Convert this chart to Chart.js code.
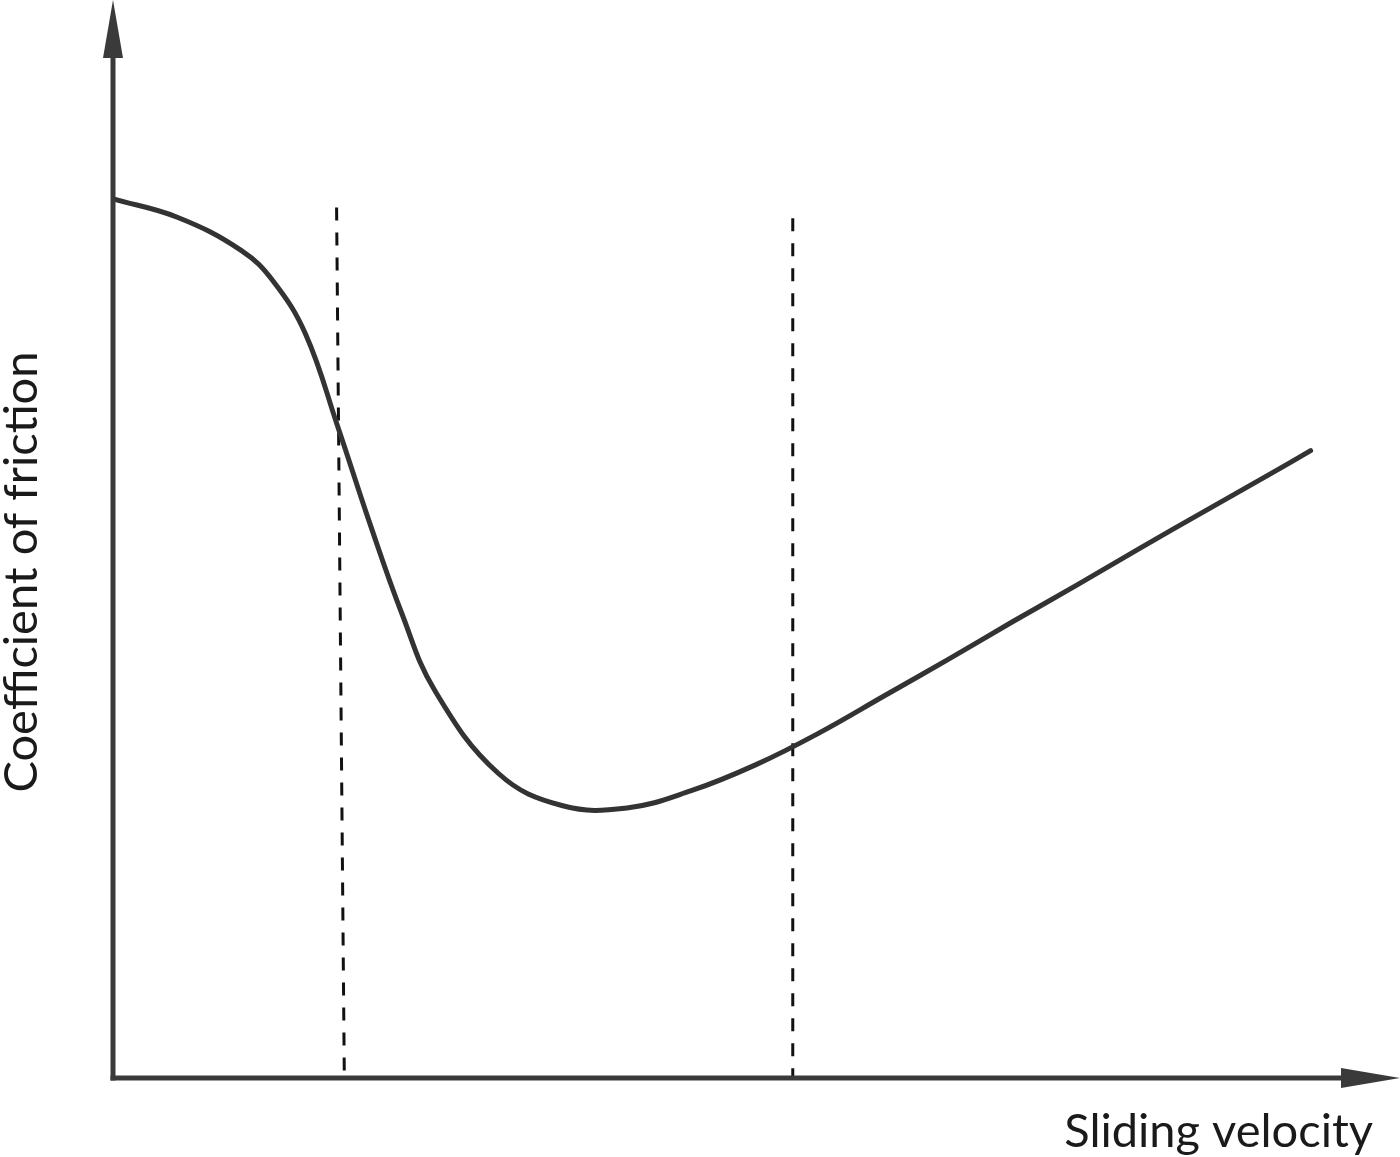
<!DOCTYPE html>
<html>
<head>
<meta charset="utf-8">
<script src="https://cdn.jsdelivr.net/npm/chart.js@4"></script>
<style>
  html, body { margin: 0; padding: 0; background: #fff; }
  #wrap { width: 1400px; height: 1157px; }
</style>
</head>
<body>
<div id="wrap"><canvas id="chart" width="1400" height="1157"></canvas></div>
<script>
// Stribeck-type curve: coefficient of friction vs sliding velocity (arbitrary units)

const velocity = [0, 0.5, 1.0, 1.25, 1.5, 1.75, 2.0, 2.25, 2.5, 3.0, 3.5, 4.0, 4.5, 5.0, 5.5,
    6.0, 6.5, 7.0, 7.5, 8.0, 8.5, 9.0, 9.32];
const friction = [8.17, 8.0, 7.69, 7.4, 6.91, 6.05, 5.15, 4.31, 3.61, 2.83, 2.53, 2.51, 2.67, 2.91, 3.21,
    3.55, 3.89, 4.24, 4.58, 4.93, 5.27, 5.61, 5.83];

// regime boundaries (dashed lines), top and bottom ends
const boundary1X = [1.74, 1.80];
const boundary1Y = [8.09, 0.03];
const boundary2X = [5.29, 5.29];
const boundary2Y = [7.99, 0];

const xTitle = 'Sliding velocity';
const yTitle = 'Coefficient of friction';

const axisColor = '#3a3a3a';
const fontFamily = 'Lato, "Open Sans", sans-serif';

function toPoints(xs, ys) {
    return xs.map(function (x, i) { return { x: x, y: ys[i] }; });
}

// axes with arrowheads plus the two axis titles
const arrowAxesPlugin = {
    id: 'arrowAxes',
    beforeDraw: function (chart) {
        const ctx = chart.ctx;
        ctx.save();
        ctx.fillStyle = '#ffffff';
        ctx.fillRect(0, 0, chart.width, chart.height);
        ctx.restore();
    },
    afterDraw: function (chart) {
        const ctx = chart.ctx;
        const area = chart.chartArea;
        const ox = area.left;
        const oy = area.bottom;

        ctx.save();
        ctx.strokeStyle = axisColor;
        ctx.fillStyle = axisColor;
        ctx.lineWidth = 5;

        // y axis
        ctx.beginPath();
        ctx.moveTo(ox, oy + 2.5);
        ctx.lineTo(ox, 50);
        ctx.stroke();
        ctx.beginPath();
        ctx.moveTo(ox, 0);
        ctx.lineTo(ox - 10, 58);
        ctx.lineTo(ox + 10, 58);
        ctx.closePath();
        ctx.fill();

        // x axis
        ctx.beginPath();
        ctx.moveTo(ox - 2.5, oy);
        ctx.lineTo(1345, oy);
        ctx.stroke();
        ctx.beginPath();
        ctx.moveTo(1400, oy);
        ctx.lineTo(1341, oy - 10);
        ctx.lineTo(1341, oy + 10);
        ctx.closePath();
        ctx.fill();

        // titles
        ctx.fillStyle = '#1a1a1a';
        ctx.font = '47px ' + fontFamily;
        ctx.textAlign = 'right';
        ctx.textBaseline = 'alphabetic';
        ctx.fillText(xTitle, 1373, 1147);

        ctx.translate(37, 572);
        ctx.rotate(-Math.PI / 2);
        ctx.textAlign = 'center';
        ctx.fillText(yTitle, 0, 0);
        ctx.restore();
    }
};

const ctx = document.getElementById('chart').getContext('2d');

new Chart(ctx, {
    type: 'scatter',
    data: {
        datasets: [
            {
                label: 'Friction',
                data: toPoints(velocity, friction),
                showLine: true,
                borderColor: '#333333',
                borderWidth: 5,
                pointRadius: 0,
                tension: 0.4,
                borderCapStyle: 'round',
                borderJoinStyle: 'round'
            },
            {
                label: 'Boundary 1',
                data: toPoints(boundary1X, boundary1Y),
                showLine: true,
                borderColor: '#111111',
                borderWidth: 3,
                borderDash: [13, 12],
                pointRadius: 0
            },
            {
                label: 'Boundary 2',
                data: toPoints(boundary2X, boundary2Y),
                showLine: true,
                borderColor: '#111111',
                borderWidth: 3,
                borderDash: [13, 12],
                pointRadius: 0
            }
        ]
    },
    options: {
        responsive: false,
        animation: false,
        layout: {
            padding: { left: 113, right: 2, top: 2, bottom: 79 }
        },
        scales: {
            x: { type: 'linear', min: 0, max: 10, display: false },
            y: { type: 'linear', min: 0, max: 10, display: false }
        },
        plugins: {
            legend: { display: false },
            tooltip: { enabled: false }
        }
    },
    plugins: [arrowAxesPlugin]
});
</script>
</body>
</html>
